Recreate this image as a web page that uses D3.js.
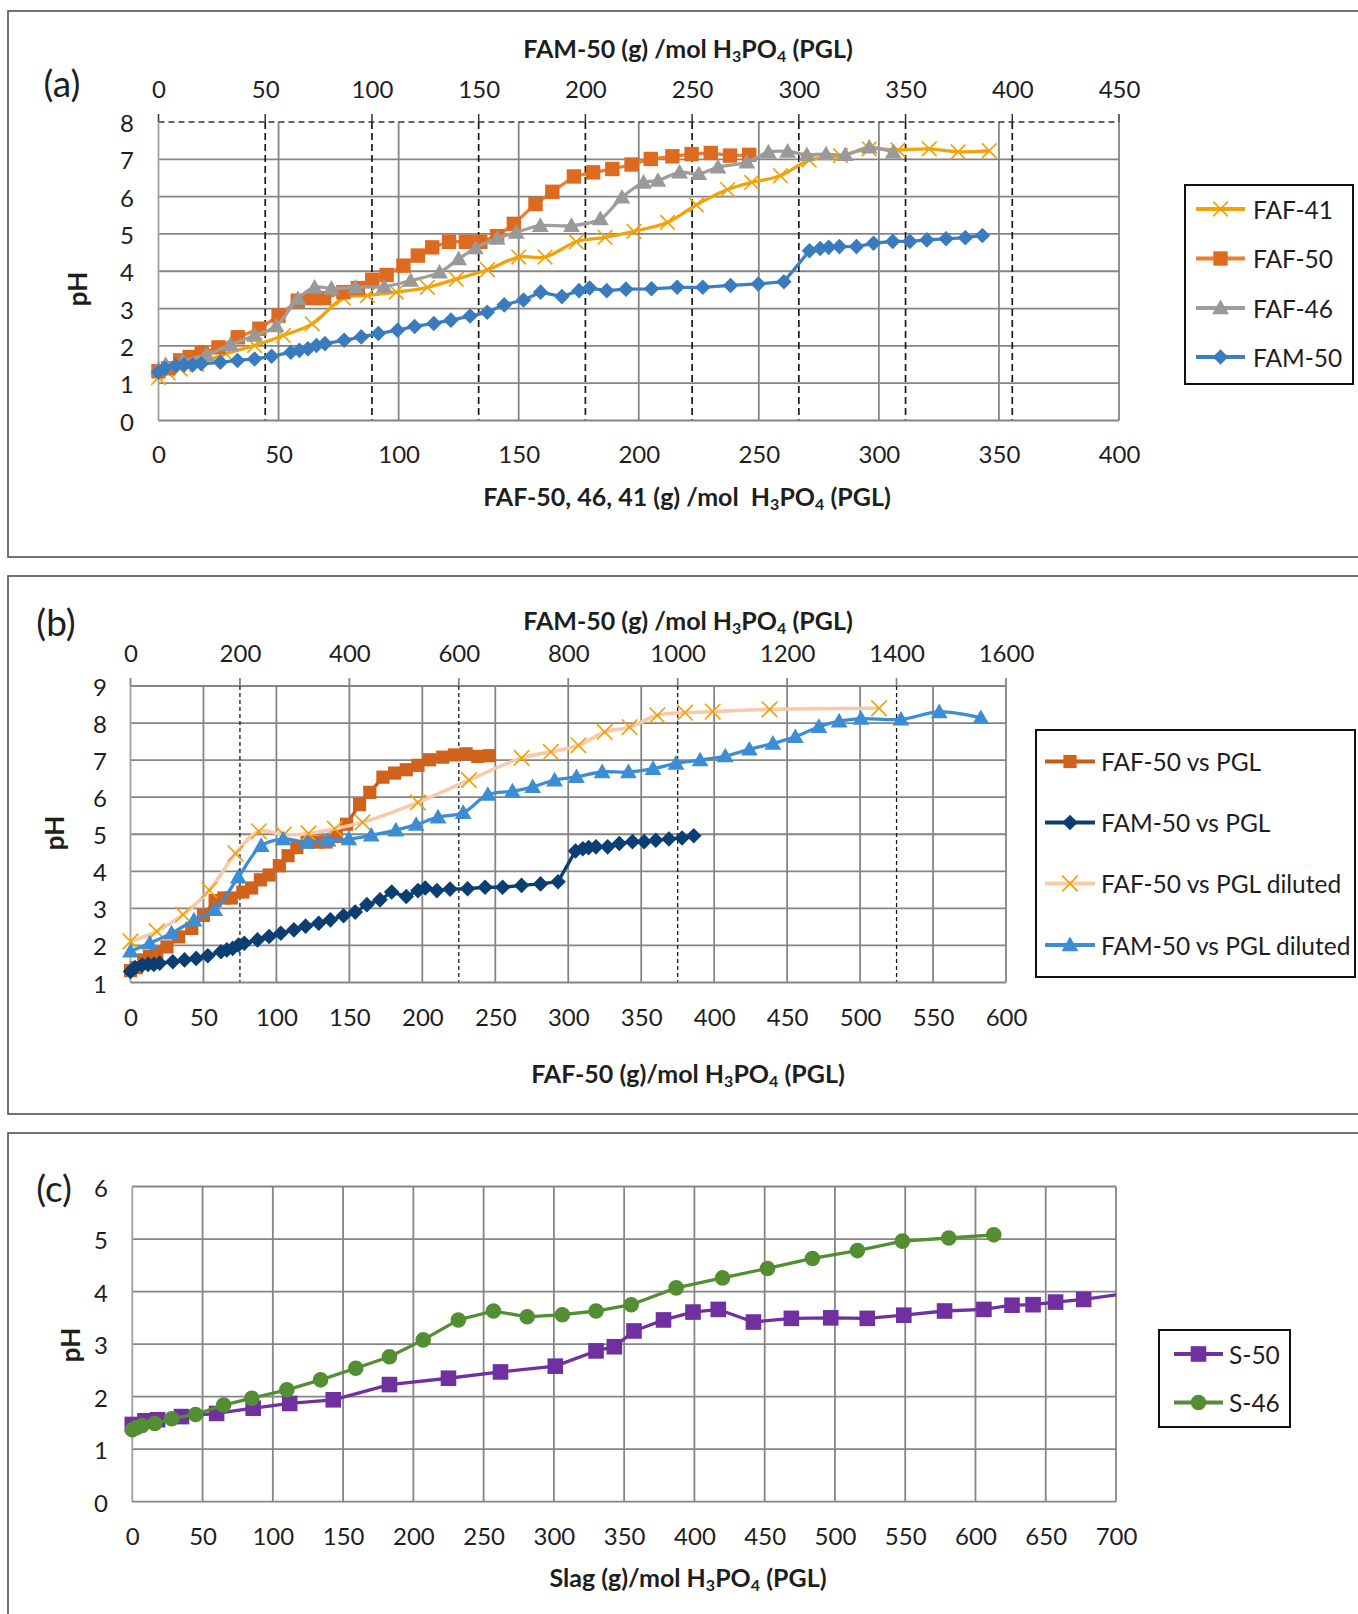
<!DOCTYPE html>
<html>
<head>
<meta charset="utf-8">
<script src="https://cdn.jsdelivr.net/npm/d3@7"></script>
<style>
  body { margin: 0; background: #fff; }
  svg text { font-family: Lato, "Open Sans", sans-serif; }
</style>
</head>
<body>
<svg id="chart" width="1358" height="1614"></svg>
<script>
// ---- panel (a): FAF on bottom axis, FAM-50 on top axis ----
const faf41X = [0, 4, 9, 16, 28, 40, 52, 64, 77, 87, 99, 112, 124, 137, 150, 161, 174, 186, 198, 212, 224, 237, 247, 259, 271, 284, 296, 308, 321, 333, 346];
const faf41Y = [1.15, 1.28, 1.38, 1.5, 1.79, 2.01, 2.28, 2.59, 3.28, 3.35, 3.44, 3.57, 3.79, 4.04, 4.38, 4.38, 4.79, 4.91, 5.07, 5.31, 5.78, 6.19, 6.38, 6.56, 6.98, 7.1, 7.28, 7.25, 7.28, 7.2, 7.23];

const faf50X = [0, 4, 9, 13, 18, 25, 33, 42, 50, 58, 64, 69, 77, 83, 89, 95, 102, 108, 114, 121, 128, 134, 141, 148, 157, 164, 173, 181, 189, 197, 205, 214, 222, 230, 238, 246];
const faf50Y = [1.32, 1.4, 1.61, 1.7, 1.81, 1.96, 2.23, 2.46, 2.81, 3.21, 3.28, 3.28, 3.44, 3.55, 3.77, 3.9, 4.15, 4.42, 4.64, 4.79, 4.79, 4.79, 4.94, 5.27, 5.8, 6.13, 6.54, 6.65, 6.74, 6.86, 7.01, 7.08, 7.14, 7.17, 7.1, 7.12];

const faf46X = [0, 3, 10, 20, 30, 40, 49, 58, 65, 72, 82, 94, 105, 117, 125, 132, 141, 149, 159, 172, 184, 193, 202, 208, 217, 225, 233, 245, 254, 262, 270, 278, 286, 296, 306];
const faf46Y = [1.38, 1.5, 1.6, 1.76, 2.03, 2.28, 2.53, 3.26, 3.57, 3.54, 3.57, 3.59, 3.75, 3.97, 4.33, 4.62, 4.88, 5.04, 5.22, 5.22, 5.4, 5.98, 6.38, 6.43, 6.65, 6.61, 6.79, 6.92, 7.19, 7.21, 7.12, 7.14, 7.12, 7.32, 7.19];

const fam50X = [0, 3, 8, 12, 16, 20, 29, 37, 45, 53, 62, 66, 70, 74, 78, 87, 95, 103, 112, 120, 129, 137, 146, 154, 162, 171, 179, 189, 197, 202, 210, 219, 231, 243, 255, 268, 281, 293, 305, 310, 314, 319, 327, 335, 344, 352, 360, 369, 378, 386];
const fam50Y = [1.3, 1.4, 1.47, 1.49, 1.49, 1.52, 1.56, 1.61, 1.65, 1.72, 1.83, 1.88, 1.92, 2.01, 2.06, 2.15, 2.24, 2.33, 2.42, 2.52, 2.6, 2.69, 2.8, 2.9, 3.1, 3.23, 3.44, 3.32, 3.48, 3.55, 3.48, 3.52, 3.53, 3.57, 3.57, 3.62, 3.66, 3.72, 4.55, 4.61, 4.64, 4.66, 4.66, 4.75, 4.8, 4.8, 4.84, 4.87, 4.9, 4.96];

// ---- panel (b): undiluted runs reuse the (a) readings ----
const fafDilX = [0, 18, 36, 54, 72, 88, 105, 122, 140, 159, 197, 232, 268, 288, 307, 325, 342, 361, 380, 399, 438, 513];
const fafDilY = [2.11, 2.38, 2.83, 3.49, 4.48, 5.08, 4.99, 5.02, 5.15, 5.32, 5.86, 6.46, 7.06, 7.22, 7.4, 7.76, 7.89, 8.21, 8.28, 8.31, 8.37, 8.4];

// FAM-50 diluted is read against the top axis (0-1600)
const famDilX = [0, 35, 75, 116, 154, 197, 239, 279, 323, 361, 399, 440, 485, 522, 562, 608, 653, 698, 735, 775, 815, 862, 910, 955, 997, 1041, 1087, 1131, 1174, 1215, 1258, 1295, 1335, 1408, 1478, 1554];
const famDilY = [1.84, 2.06, 2.33, 2.68, 2.96, 3.84, 4.69, 4.87, 4.78, 4.84, 4.87, 4.97, 5.11, 5.26, 5.46, 5.58, 6.07, 6.16, 6.28, 6.46, 6.55, 6.68, 6.68, 6.77, 6.91, 7.0, 7.11, 7.29, 7.45, 7.63, 7.9, 8.05, 8.12, 8.1, 8.3, 8.14];

// ---- panel (c): slag ----
const s50X = [0, 9, 18, 35, 60, 86, 112, 143, 183, 225, 262, 301, 330, 343, 357, 378, 399, 417, 442, 469, 497, 523, 549, 578, 606, 626, 641, 657, 677, 712];
const s50Y = [1.47, 1.54, 1.56, 1.62, 1.68, 1.78, 1.87, 1.94, 2.23, 2.35, 2.47, 2.58, 2.87, 2.95, 3.25, 3.46, 3.61, 3.66, 3.42, 3.49, 3.5, 3.49, 3.55, 3.63, 3.66, 3.74, 3.75, 3.8, 3.85, 3.98];
const s46X = [0, 3, 7, 16, 28, 45, 65, 85, 110, 134, 159, 183, 207, 232, 257, 281, 306, 330, 355, 387, 420, 452, 484, 516, 548, 581, 613];
const s46Y = [1.37, 1.41, 1.45, 1.49, 1.58, 1.66, 1.84, 1.97, 2.13, 2.32, 2.54, 2.76, 3.08, 3.46, 3.63, 3.52, 3.56, 3.63, 3.75, 4.07, 4.26, 4.44, 4.63, 4.78, 4.96, 5.02, 5.08];

// tick values
const aBottomTicks = d3.range(0, 401, 50);
const aTopTicks = d3.range(0, 451, 50);
const aYTicks = d3.range(0, 9);
const bBottomTicks = d3.range(0, 601, 50);
const bTopTicks = d3.range(0, 1601, 200);
const bDashed = [200, 600, 1000, 1400];
const bYTicks = d3.range(1, 10);
const cBottomTicks = d3.range(0, 701, 50);
const cYTicks = d3.range(0, 7);

const svg = d3.select('#chart');
const GRID = '#858585';
const TXT = '#1e1e1e';
const TICK_FS = 24;
const TITLE_FS = 25;
const LEG_FS = 24.5;

function zip(xs, ys) {
  return xs.map((x, i) => ({ x: x, y: ys[i] }));
}

function markerPath(shape, r) {
  switch (shape) {
    case 'square': return `M${-r},${-r}H${r}V${r}H${-r}Z`;
    case 'diamond': return `M0,${-r}L${r},0L0,${r}L${-r},0Z`;
    case 'triangle': return `M0,${-r * 1.05}L${r * 1.05},${r * 0.78}L${-r * 1.05},${r * 0.78}Z`;
    case 'cross': return `M${-r},${-r}L${r},${r}M${r},${-r}L${-r},${r}`;
    case 'circle': return `M${r},0A${r},${r} 0 1,1 ${-r},0A${r},${r} 0 1,1 ${r},0Z`;
  }
}

function drawSeries(g, s, x, y) {
  const line = d3.line()
    .x(d => x(d.x))
    .y(d => y(d.y))
    .curve(s.smooth ? d3.curveCatmullRom.alpha(0.5) : d3.curveLinear);
  g.append('path')
    .datum(s.points)
    .attr('d', line)
    .attr('fill', 'none')
    .attr('stroke', s.line)
    .attr('stroke-width', s.lw || 3.3)
    .attr('stroke-linejoin', 'round');
  g.append('g')
    .selectAll('path')
    .data(s.points)
    .enter().append('path')
    .attr('transform', d => `translate(${x(d.x)},${y(d.y)})`)
    .attr('d', markerPath(s.shape, s.size))
    .attr('fill', s.shape === 'cross' ? 'none' : s.marker)
    .attr('stroke', s.shape === 'cross' ? s.marker : 'none')
    .attr('stroke-width', 1.7);
}

function drawLegend(box, rowsY, lineX, textX, series) {
  svg.append('rect')
    .attr('x', box[0]).attr('y', box[1])
    .attr('width', box[2] - box[0]).attr('height', box[3] - box[1])
    .attr('fill', '#fff').attr('stroke', '#111').attr('stroke-width', 2);
  series.forEach((s, i) => {
    const cy = rowsY[i];
    svg.append('line')
      .attr('x1', lineX[0]).attr('x2', lineX[1]).attr('y1', cy).attr('y2', cy)
      .attr('stroke', s.line).attr('stroke-width', 4);
    svg.append('path')
      .attr('transform', `translate(${(lineX[0] + lineX[1]) / 2},${cy})`)
      .attr('d', markerPath(s.shape, s.size))
      .attr('fill', s.shape === 'cross' ? 'none' : s.marker)
      .attr('stroke', s.shape === 'cross' ? s.marker : 'none')
      .attr('stroke-width', 1.7);
    svg.append('text')
      .attr('x', textX).attr('y', cy)
      .attr('dominant-baseline', 'central')
      .attr('font-size', LEG_FS).attr('fill', TXT)
      .text(s.name);
  });
}

function tickLabels(scale, values, pos, orient) {
  let axis;
  if (orient === 'left') axis = d3.axisLeft(scale);
  else if (orient === 'top') axis = d3.axisTop(scale);
  else axis = d3.axisBottom(scale);
  axis.tickValues(values).tickSize(0).tickPadding(0).tickFormat(d3.format('d'));
  const ag = svg.append('g')
    .attr('transform', orient === 'left' ? `translate(${pos},0)` : `translate(0,${pos})`)
    .call(axis);
  ag.attr('font-family', null).attr('font-size', TICK_FS);
  ag.select('.domain').remove();
  ag.selectAll('text')
    .attr('y', orient === 'left' ? null : 0)
    .attr('dy', null)
    .attr('dominant-baseline', 'central')
    .attr('fill', TXT);
}

function axisTitle(x, y, before) {
  const t = svg.append('text')
    .attr('x', x).attr('y', y)
    .attr('text-anchor', 'middle')
    .attr('dominant-baseline', 'central')
    .attr('font-weight', 'bold').attr('font-size', TITLE_FS)
    .attr('fill', TXT)
    .style('white-space', 'pre');
  t.append('tspan').text(before + 'H');
  t.append('tspan').attr('font-size', 16).attr('dy', 7).text('3');
  t.append('tspan').attr('dy', -7).text('PO');
  t.append('tspan').attr('font-size', 16).attr('dy', 7).text('4');
  t.append('tspan').attr('dy', -7).text(' (PGL)');
}

function panelLabel(x, y, txt) {
  svg.append('text')
    .attr('x', x).attr('y', y)
    .attr('text-anchor', 'middle').attr('dominant-baseline', 'central')
    .attr('font-size', 37).attr('fill', TXT)
    .text(txt);
}

function yLabel(x, y) {
  svg.append('text')
    .attr('transform', `translate(${x},${y}) rotate(-90)`)
    .attr('text-anchor', 'middle').attr('dominant-baseline', 'central')
    .attr('font-weight', 'bold').attr('font-size', 26).attr('fill', TXT)
    .text('pH');
}

function frame(y0, y1) {
  svg.append('rect')
    .attr('x', 8).attr('y', y0)
    .attr('width', 1400).attr('height', y1 - y0)
    .attr('fill', 'none').attr('stroke', '#505050').attr('stroke-width', 1.6);
}

function vLines(g, scale, values, y0, y1, dashed) {
  g.selectAll(null)
    .data(values)
    .enter().append('line')
    .attr('x1', d => scale(d)).attr('x2', d => scale(d))
    .attr('y1', y0).attr('y2', y1)
    .attr('stroke', dashed ? '#1a1a1a' : GRID)
    .attr('stroke-width', dashed ? 1.7 : 1.8)
    .attr('stroke-dasharray', dashed ? '7,4' : null);
}

function hLines(g, scale, values, x0, x1, dashed) {
  g.selectAll(null)
    .data(values)
    .enter().append('line')
    .attr('y1', d => scale(d)).attr('y2', d => scale(d))
    .attr('x1', x0).attr('x2', x1)
    .attr('stroke', dashed ? '#333' : GRID)
    .attr('stroke-width', dashed ? 1.5 : 1.8)
    .attr('stroke-dasharray', dashed ? '6,4' : null);
}

// ================= (a) =================
frame(11, 557);
{
  const x = d3.scaleLinear().domain([0, 400]).range([158.5, 1119]);
  const xTop = d3.scaleLinear().domain([0, 450]).range([158.5, 1119]);
  const y = d3.scaleLinear().domain([0, 8]).range([420.5, 122]);
  const g = svg.append('g');

  hLines(g, y, aYTicks.filter(v => v > 0 && v < 8), 158.5, 1119, false);
  vLines(g, x, aBottomTicks.filter(v => v > 0), 122, 420.5, false);
  vLines(g, xTop, aTopTicks.filter(v => v > 0 && v < 450), 122, 420.5, true);
  hLines(g, y, [8], 158.5, 1119, true);
  // top ticks of the secondary axis
  g.selectAll(null).data(aTopTicks).enter().append('line')
    .attr('x1', d => xTop(d)).attr('x2', d => xTop(d))
    .attr('y1', 114).attr('y2', 122)
    .attr('stroke', '#333').attr('stroke-width', 1.5);
  // axis lines
  g.append('line').attr('x1', 158.5).attr('x2', 158.5).attr('y1', 122).attr('y2', 420.5)
    .attr('stroke', '#a0a0a0').attr('stroke-width', 1.8);
  g.append('line').attr('x1', 158.5).attr('x2', 1119).attr('y1', 420.5).attr('y2', 420.5)
    .attr('stroke', GRID).attr('stroke-width', 1.8);

  const sA = [
    { name: 'FAF-41', points: zip(faf41X, faf41Y), line: '#F0A30A', marker: '#F0A30A', shape: 'cross', size: 7.3, smooth: true, axis: x },
    { name: 'FAF-50', points: zip(faf50X, faf50Y), line: '#ED7D31', marker: '#DD6A1E', shape: 'square', size: 7.2, axis: x },
    { name: 'FAF-46', points: zip(faf46X, faf46Y), line: '#9E9E9E', marker: '#999999', shape: 'triangle', size: 8, smooth: true, axis: x },
    { name: 'FAM-50', points: zip(fam50X, fam50Y), line: '#3C7EC2', marker: '#3A7BBF', shape: 'diamond', size: 7.8, axis: xTop }
  ];
  sA.forEach(s => drawSeries(g, s, s.axis, y));

  tickLabels(x, aBottomTicks, 453, 'bottom');
  tickLabels(xTop, aTopTicks, 88.5, 'top');
  tickLabels(y, aYTicks, 134, 'left');
  axisTitle(688, 48, 'FAM-50 (g) /mol ');
  axisTitle(687, 496, 'FAF-50, 46, 41 (g) /mol  ');
  panelLabel(62, 82, '(a)');
  yLabel(77, 289);
  drawLegend([1185, 185, 1353, 384], [209, 258.5, 308, 357], [1196, 1245], 1253, sA);
}

// ================= (b) =================
frame(576, 1114);
{
  const x = d3.scaleLinear().domain([0, 600]).range([130.5, 1006]);
  const xTop = d3.scaleLinear().domain([0, 1600]).range([130.5, 1006]);
  const y = d3.scaleLinear().domain([1, 9]).range([982.5, 686]);
  const g = svg.append('g');

  hLines(g, y, bYTicks.filter(v => v > 1), 130.5, 1006, false);
  vLines(g, x, bBottomTicks.filter(v => v > 0), 686, 982.5, false);
  g.selectAll(null).data(bDashed).enter().append('line')
    .attr('x1', d => xTop(d)).attr('x2', d => xTop(d))
    .attr('y1', 686).attr('y2', 982.5)
    .attr('stroke', '#1a1a1a').attr('stroke-width', 1.3)
    .attr('stroke-dasharray', '4,3');
  g.selectAll(null).data(bTopTicks).enter().append('line')
    .attr('x1', d => xTop(d)).attr('x2', d => xTop(d))
    .attr('y1', 678).attr('y2', 686)
    .attr('stroke', GRID).attr('stroke-width', 1.8);
  g.append('line').attr('x1', 130.5).attr('x2', 130.5).attr('y1', 686).attr('y2', 982.5)
    .attr('stroke', '#a0a0a0').attr('stroke-width', 1.8);
  g.append('line').attr('x1', 130.5).attr('x2', 1006).attr('y1', 982.5).attr('y2', 982.5)
    .attr('stroke', GRID).attr('stroke-width', 1.8);

  const sB = [
    { name: 'FAF-50 vs PGL', points: zip(faf50X, faf50Y), line: '#C65A18', marker: '#D0621C', shape: 'square', size: 6.6, axis: x },
    { name: 'FAM-50 vs PGL', points: zip(fam50X, fam50Y), line: '#0E3F70', marker: '#0B3E72', shape: 'diamond', size: 7.8, axis: x },
    { name: 'FAF-50 vs PGL diluted', points: zip(fafDilX, fafDilY), line: '#F9C9A8', marker: '#F2A20C', shape: 'cross', size: 7.8, smooth: true, lw: 3.6, axis: x },
    { name: 'FAM-50 vs PGL diluted', points: zip(famDilX, famDilY), line: '#3B8ED6', marker: '#3B8ED6', shape: 'triangle', size: 8, smooth: true, axis: xTop }
  ];
  sB.forEach(s => drawSeries(g, s, s.axis, y));

  tickLabels(x, bBottomTicks, 1016, 'bottom');
  tickLabels(xTop, bTopTicks, 652, 'top');
  tickLabels(y, bYTicks, 107, 'left');
  axisTitle(688, 620, 'FAM-50 (g) /mol ');
  axisTitle(688, 1073, 'FAF-50 (g)/mol ');
  panelLabel(56, 621, '(b)');
  yLabel(54, 833);
  drawLegend([1036, 730, 1355, 977], [761.5, 822.5, 883.5, 945], [1045, 1095], 1101, sB);
}

// ================= (c) =================
frame(1133, 1640);
{
  const x = d3.scaleLinear().domain([0, 700]).range([132.3, 1116]);
  const y = d3.scaleLinear().domain([0, 6]).range([1501.7, 1186.5]);
  const g = svg.append('g');

  hLines(g, y, cYTicks.filter(v => v > 0), 132.3, 1116, false);
  vLines(g, x, cBottomTicks.filter(v => v > 0), 1186.5, 1501.7, false);
  g.append('line').attr('x1', 132.3).attr('x2', 132.3).attr('y1', 1186.5).attr('y2', 1501.7)
    .attr('stroke', '#a0a0a0').attr('stroke-width', 1.8);
  g.append('line').attr('x1', 132.3).attr('x2', 1116).attr('y1', 1501.7).attr('y2', 1501.7)
    .attr('stroke', GRID).attr('stroke-width', 1.8);

  svg.append('clipPath').attr('id', 'clipC')
    .append('rect').attr('x', 110).attr('y', 1170).attr('width', 1006).attr('height', 345);
  const gc = g.append('g').attr('clip-path', 'url(#clipC)');

  const sC = [
    { name: 'S-50', points: zip(s50X, s50Y), line: '#7030A0', marker: '#7030A0', shape: 'square', size: 7.8, axis: x },
    { name: 'S-46', points: zip(s46X, s46Y), line: '#548E33', marker: '#548E33', shape: 'circle', size: 7.8, axis: x }
  ];
  sC.forEach(s => drawSeries(gc, s, s.axis, y));

  tickLabels(x, cBottomTicks, 1535, 'bottom');
  tickLabels(y, cYTicks, 108, 'left');
  axisTitle(688, 1577, 'Slag (g)/mol ');
  panelLabel(54, 1187, '(c)');
  yLabel(70, 1345);
  drawLegend([1159, 1330, 1290, 1427], [1354, 1402.5], [1174, 1223], 1229, sC);
}
</script>
</body>
</html>
